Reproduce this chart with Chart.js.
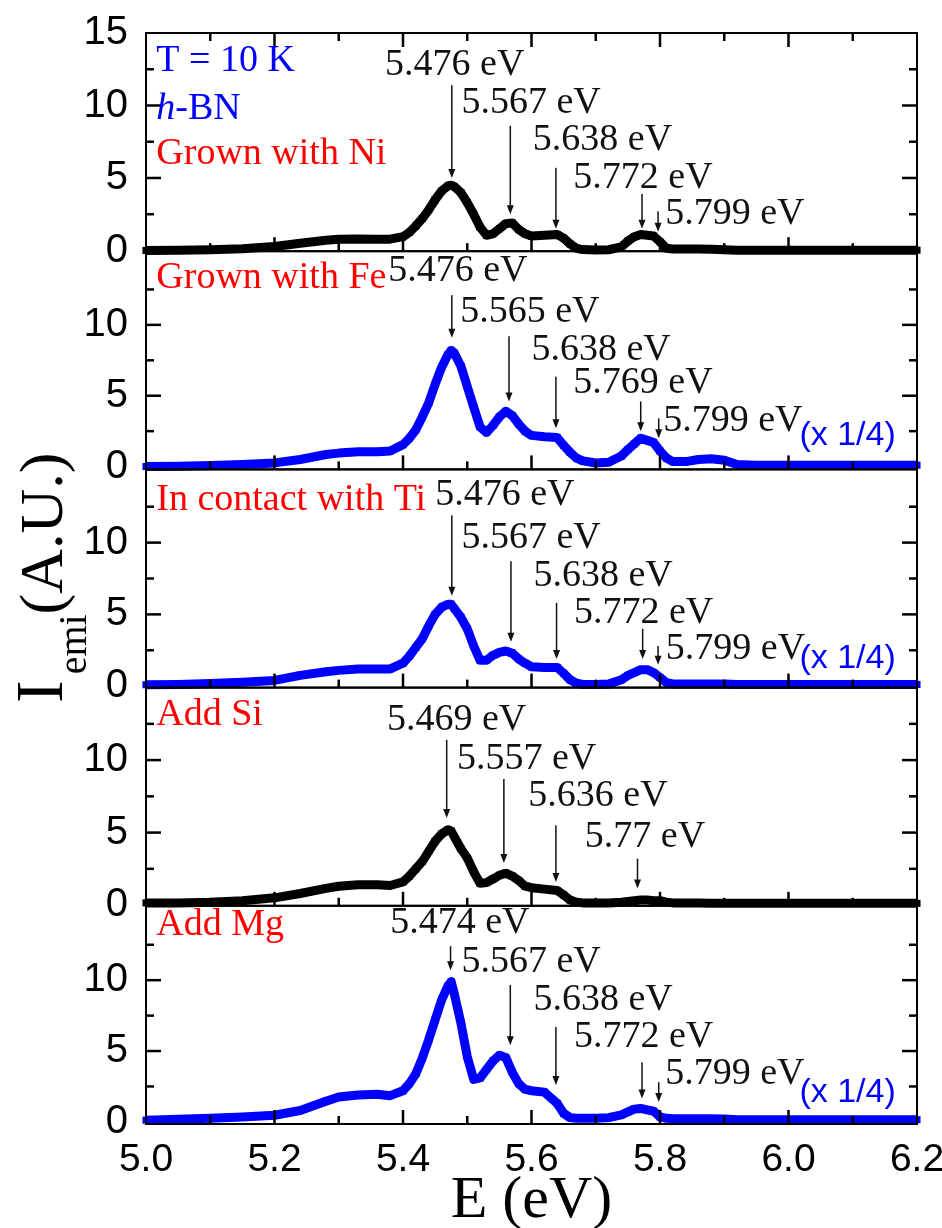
<!DOCTYPE html>
<html>
<head>
<meta charset="utf-8">
<script src="https://cdn.jsdelivr.net/npm/chart.js@4.4.1/dist/chart.umd.min.js"></script>
<style>
  html, body { margin: 0; padding: 0; background: #fff; }
  canvas { display: block; }
</style>
</head>
<body>
<canvas id="chart" width="942" height="1228"></canvas>
<script>
// photon energy (eV), shared by all five spectra
const energy = [
  5.00, 5.05, 5.10, 5.15, 5.20, 5.24, 5.28, 5.30, 5.33, 5.36,
  5.38, 5.40, 5.41, 5.42, 5.43, 5.44, 5.45, 5.46, 5.47, 5.475,
  5.48, 5.49, 5.50, 5.51, 5.52, 5.53, 5.54, 5.55, 5.56, 5.57,
  5.58, 5.59, 5.60, 5.62, 5.64, 5.65, 5.66, 5.67, 5.68, 5.70,
  5.72, 5.74, 5.75, 5.76, 5.77, 5.78, 5.79, 5.80, 5.81, 5.82,
  5.84, 5.86, 5.88, 5.90, 5.92, 5.95, 6.00, 6.05, 6.10, 6.15,
  6.20
];

const niSpectrum = [
  0.00, 0.02, 0.05, 0.12, 0.28, 0.50, 0.70, 0.78, 0.80, 0.78,
  0.78, 0.95, 1.25, 1.70, 2.20, 2.80, 3.50, 4.10, 4.45, 4.50,
  4.40, 4.00, 3.30, 2.50, 1.60, 1.05, 1.15, 1.50, 1.85, 1.90,
  1.45, 1.15, 1.00, 1.05, 1.10, 0.85, 0.45, 0.15, 0.06, 0.04,
  0.05, 0.25, 0.65, 0.95, 1.10, 1.05, 1.00, 0.60, 0.15, 0.10,
  0.10, 0.10, 0.08, 0.05, 0.02, 0.02, 0.02, 0.02, 0.02, 0.02,
  0.02
];
const feSpectrum = [
  0.00, 0.02, 0.08, 0.15, 0.26, 0.50, 0.85, 0.95, 1.05, 1.05,
  1.10, 1.55, 2.00, 2.60, 3.50, 4.50, 5.80, 7.00, 7.90, 8.20,
  8.00, 7.10, 5.65, 4.20, 2.80, 2.40, 2.90, 3.50, 3.90, 3.60,
  3.00, 2.50, 2.20, 2.10, 2.05, 1.50, 1.00, 0.60, 0.40, 0.25,
  0.30, 0.75, 1.20, 1.60, 2.00, 1.85, 1.70, 1.10, 0.60, 0.35,
  0.35, 0.50, 0.55, 0.45, 0.15, 0.10, 0.10, 0.10, 0.10, 0.10,
  0.10
];
const tiSpectrum = [
  0.10, 0.12, 0.18, 0.28, 0.40, 0.75, 1.00, 1.10, 1.20, 1.20,
  1.20, 1.60, 2.10, 2.70, 3.30, 4.20, 5.00, 5.50, 5.70, 5.70,
  5.40, 4.80, 4.00, 2.80, 1.80, 1.80, 2.15, 2.35, 2.45, 2.30,
  1.90, 1.60, 1.35, 1.30, 1.30, 0.90, 0.45, 0.20, 0.12, 0.12,
  0.15, 0.45, 0.75, 0.95, 1.15, 1.15, 0.95, 0.60, 0.25, 0.15,
  0.15, 0.15, 0.15, 0.15, 0.12, 0.12, 0.12, 0.12, 0.12, 0.12,
  0.12
];
const siSpectrum = [
  0.15, 0.15, 0.20, 0.30, 0.50, 0.80, 1.15, 1.30, 1.40, 1.40,
  1.35, 1.60, 2.00, 2.50, 3.00, 3.70, 4.40, 4.90, 5.20, 5.10,
  4.70, 3.90, 3.25, 2.30, 1.50, 1.55, 1.80, 2.05, 2.20, 2.00,
  1.70, 1.30, 1.20, 1.10, 1.00, 0.70, 0.35, 0.20, 0.15, 0.15,
  0.15, 0.20, 0.25, 0.30, 0.35, 0.35, 0.30, 0.30, 0.20, 0.15,
  0.15, 0.15, 0.12, 0.12, 0.12, 0.12, 0.12, 0.12, 0.12, 0.12,
  0.12
];
const mgSpectrum = [
  0.12, 0.18, 0.25, 0.35, 0.47, 0.80, 1.45, 1.75, 1.90, 1.95,
  1.85, 2.20, 2.70, 3.40, 4.50, 5.80, 7.20, 8.60, 9.60, 9.90,
  9.00, 7.00, 4.60, 3.00, 3.10, 3.70, 4.30, 4.70, 4.55, 3.50,
  2.70, 2.30, 2.20, 2.10, 1.30, 0.60, 0.30, 0.25, 0.25, 0.25,
  0.30, 0.50, 0.70, 0.90, 0.95, 0.85, 0.75, 0.35, 0.25, 0.22,
  0.22, 0.22, 0.22, 0.20, 0.15, 0.15, 0.15, 0.15, 0.15, 0.15,
  0.15
];

// axis ticks
const xTicks = [5.0, 5.2, 5.4, 5.6, 5.8, 6.0, 6.2];
const xMinorTicks = [5.1, 5.3, 5.5, 5.7, 5.9, 6.1];
const yTicks = [0, 5, 10, 15];
const yMinorTicks = [2.5, 7.5, 12.5];

// panels from top to bottom
const spectra = [niSpectrum, feSpectrum, tiSpectrum, siSpectrum, mgSpectrum];
const panelNames = ['Grown with Ni', 'Grown with Fe', 'In contact with Ti', 'Add Si', 'Add Mg'];
const panelColors = ['#000000', '#0000ff', '#0000ff', '#000000', '#0000ff'];
const scaledDown = [false, true, true, false, true];   // "(x 1/4)" note
const yMin = [-0.05, -0.2, -0.1, -0.05, -0.15];
const yMax = [15.0, 15.2, 15.1, 15.0, 15.25];

// peak labels: text, where the text sits (eV, intensity), arrow energy and arrow top / tip
const peakLabels = [
  [
    { text: '5.476 eV', tx: 5.372, ty: 12.1, e: 5.476, top: 11.4, tip: 5.0 },
    { text: '5.567 eV', tx: 5.491, ty: 9.5, e: 5.567, top: 8.6, tip: 2.5 },
    { text: '5.638 eV', tx: 5.602, ty: 6.9, e: 5.638, top: 5.7, tip: 1.5 },
    { text: '5.772 eV', tx: 5.665, ty: 4.3, e: 5.772, top: 3.9, tip: 1.5 },
    { text: '5.799 eV', tx: 5.808, ty: 1.8, e: 5.797, top: 2.7, tip: 1.3 }
  ],
  [
    { text: '5.476 eV', tx: 5.377, ty: 13.1, e: 5.476, top: 12.1, tip: 9.1 },
    { text: '5.565 eV', tx: 5.489, ty: 10.2, e: 5.565, top: 9.2, tip: 4.6 },
    { text: '5.638 eV', tx: 5.600, ty: 7.5, e: 5.638, top: 6.35, tip: 2.7 },
    { text: '5.769 eV', tx: 5.665, ty: 5.2, e: 5.770, top: 4.6, tip: 2.5 },
    { text: '5.799 eV', tx: 5.805, ty: 2.5, e: 5.798, top: 3.4, tip: 2.0 }
  ],
  [
    { text: '5.476 eV', tx: 5.450, ty: 12.6, e: 5.476, top: 11.9, tip: 6.3 },
    { text: '5.567 eV', tx: 5.491, ty: 9.65, e: 5.568, top: 8.7, tip: 3.1 },
    { text: '5.638 eV', tx: 5.603, ty: 7.0, e: 5.639, top: 5.8, tip: 1.9 },
    { text: '5.772 eV', tx: 5.666, ty: 4.4, e: 5.773, top: 4.0, tip: 1.9 },
    { text: '5.799 eV', tx: 5.809, ty: 1.9, e: 5.797, top: 2.8, tip: 1.5 }
  ],
  [
    { text: '5.469 eV', tx: 5.375, ty: 12.1, e: 5.468, top: 11.4, tip: 6.0 },
    { text: '5.557 eV', tx: 5.484, ty: 9.4, e: 5.557, top: 8.7, tip: 2.9 },
    { text: '5.636 eV', tx: 5.595, ty: 6.8, e: 5.638, top: 5.5, tip: 1.6 },
    { text: '5.77 eV', tx: 5.683, ty: 4.0, e: 5.765, top: 3.2, tip: 1.15 }
  ],
  [
    { text: '5.474 eV', tx: 5.380, ty: 13.3, e: 5.474, top: 12.4, tip: 10.7 },
    { text: '5.567 eV', tx: 5.491, ty: 10.6, e: 5.567, top: 9.65, tip: 5.4 },
    { text: '5.638 eV', tx: 5.603, ty: 7.9, e: 5.638, top: 6.7, tip: 2.6 },
    { text: '5.772 eV', tx: 5.666, ty: 5.3, e: 5.772, top: 4.2, tip: 1.65 },
    { text: '5.799 eV', tx: 5.808, ty: 2.7, e: 5.798, top: 2.8, tip: 1.4 }
  ]
];
const nameY = [5.95, 12.6, 12.3, 12.4, 13.2];
const scaleNoteY = [0, 1.5, 1.3, 0, 1.4];

const serif = '"Liberation Serif", "Times New Roman", serif';
const sans = '"Liberation Sans", Arial, sans-serif';

// panel frames, inward tick marks and all annotations
const framePlugin = {
  id: 'frames',
  afterDraw(chart) {
    const ctx = chart.ctx;
    const xs = chart.scales.x;
    const left = xs.left, right = xs.right;
    ctx.save();
    ctx.strokeStyle = '#000';
    ctx.lineWidth = 2;
    for (let i = 0; i < spectra.length; i++) {
      const ys = chart.scales['y' + i];
      const top = ys.top, bottom = ys.bottom;
      ctx.strokeRect(left, top, right - left, bottom - top);
      ctx.fillStyle = '#000';
      yTicks.concat(yMinorTicks).forEach(v => {
        const len = yTicks.indexOf(v) >= 0 ? 15 : 8;
        const py = ys.getPixelForValue(v);
        if (py - top < 5 || bottom - py < 5) return;
        ctx.fillRect(left, py - 1.25, len, 2.5);
        ctx.fillRect(right - len, py - 1.25, len, 2.5);
      });
      xTicks.concat(xMinorTicks).forEach(v => {
        const len = xTicks.indexOf(v) >= 0 ? 14 : 8;
        const px = xs.getPixelForValue(v);
        if (px - left < 3 || right - px < 3) return;
        ctx.fillRect(px - 1.25, bottom - len, 2.5, len);
        if (i === 0) ctx.fillRect(px - 1.25, top, 2.5, len);
      });
    }

    ctx.textBaseline = 'alphabetic';
    ctx.textAlign = 'left';
    for (let i = 0; i < spectra.length; i++) {
      const ys = chart.scales['y' + i];
      ctx.fillStyle = '#ff0000';
      ctx.font = '38px ' + serif;
      ctx.fillText(panelNames[i], xs.getPixelForValue(5.016), ys.getPixelForValue(nameY[i]));
      if (scaledDown[i]) {
        ctx.fillStyle = '#0000ff';
        ctx.font = '34px ' + sans;
        ctx.fillText('(x 1/4)', xs.getPixelForValue(6.017), ys.getPixelForValue(scaleNoteY[i]));
      }
      for (const p of peakLabels[i]) {
        ctx.fillStyle = '#111';
        ctx.font = '38px ' + serif;
        ctx.fillText(p.text, xs.getPixelForValue(p.tx), ys.getPixelForValue(p.ty));
        const ax = xs.getPixelForValue(p.e);
        const a0 = ys.getPixelForValue(p.top);
        const a1 = ys.getPixelForValue(p.tip);
        ctx.fillRect(ax - 0.75, a0, 1.5, a1 - 7 - a0);
        ctx.beginPath();
        ctx.moveTo(ax - 3.5, a1 - 9);
        ctx.lineTo(ax + 3.5, a1 - 9);
        ctx.lineTo(ax, a1);
        ctx.closePath();
        ctx.fill();
      }
    }

    // header of the top panel
    const y0 = chart.scales.y0;
    const lx = xs.getPixelForValue(5.016);
    ctx.fillStyle = '#0000ff';
    ctx.font = '38px ' + serif;
    ctx.fillText('T = 10 K', lx, y0.getPixelForValue(12.4));
    ctx.font = 'italic 38px ' + serif;
    ctx.fillText('h', lx, y0.getPixelForValue(9.1));
    const hw = ctx.measureText('h').width;
    ctx.font = '38px ' + serif;
    ctx.fillText('-BN', lx + hw, y0.getPixelForValue(9.1));

    // axis titles
    ctx.fillStyle = '#000';
    ctx.font = '60px ' + serif;
    ctx.textAlign = 'center';
    ctx.fillText('E (eV)', (left + right) / 2, 1217);

    ctx.translate(62, 703);
    ctx.rotate(-Math.PI / 2);
    ctx.textAlign = 'left';
    ctx.font = '68px ' + serif;
    ctx.fillText('I', 0, 0);
    let w = ctx.measureText('I').width + 6;
    ctx.font = '40px ' + serif;
    ctx.fillText('emi', w, 24);
    w += ctx.measureText('emi').width;
    ctx.font = '62px ' + serif;
    ctx.fillText('(A.U.)', w, 0);
    ctx.restore();
  }
};

const datasets = spectra.map((s, i) => ({
  label: panelNames[i],
  data: energy.map((e, k) => ({ x: e, y: s[k] })),
  yAxisID: 'y' + i,
  borderColor: panelColors[i],
  backgroundColor: panelColors[i],
  borderWidth: 9,
  pointStyle: 'rect',
  pointRadius: 5,
  pointBorderWidth: 0,
  pointBackgroundColor: panelColors[i],
  tension: 0,
  borderJoinStyle: 'round',
  clip: false
}));

const scales = {
  x: {
    type: 'linear',
    position: 'bottom',
    min: 5.0,
    max: 6.2,
    grid: { display: false, drawTicks: false },
    border: { display: false },
    afterBuildTicks(scale) {
      scale.ticks = xTicks.map(v => ({ value: v }));
    },
    ticks: {
      padding: 13,
      color: '#000',
      maxRotation: 0,
      autoSkip: false,
      font: { family: sans, size: 39 },
      callback: v => v.toFixed(1)
    },
    afterFit(scale) {
      scale.height = 104;
      scale.paddingLeft = 0;
      scale.paddingRight = 0;
    }
  }
};
spectra.forEach((s, i) => {
  scales['y' + i] = {
    type: 'linear',
    position: 'left',
    stack: 'panels',
    stackWeight: 1,
    weight: spectra.length - i,
    min: yMin[i],
    max: yMax[i],
    grid: { display: false, drawTicks: false },
    border: { display: false },
    afterBuildTicks(scale) {
      // the top panel also carries the "15" label
      scale.ticks = yTicks.filter(v => i === 0 || v < 15).map(v => ({ value: v }));
    },
    ticks: {
      autoSkip: false,
      padding: 18,
      color: '#000',
      font: { family: sans, size: 40 },
      callback: v => String(v)
    },
    afterFit(scale) {
      scale.width = 146;
      scale.paddingTop = 0;
      scale.paddingBottom = 0;
    }
  };
});

new Chart(document.getElementById('chart'), {
  type: 'line',
  data: { datasets },
  options: {
    responsive: false,
    devicePixelRatio: 1,
    animation: false,
    layout: { padding: { left: 0, right: 25, top: 33, bottom: 0 } },
    plugins: { legend: { display: false }, tooltip: { enabled: false } },
    scales
  },
  plugins: [framePlugin]
});
</script>
</body>
</html>
